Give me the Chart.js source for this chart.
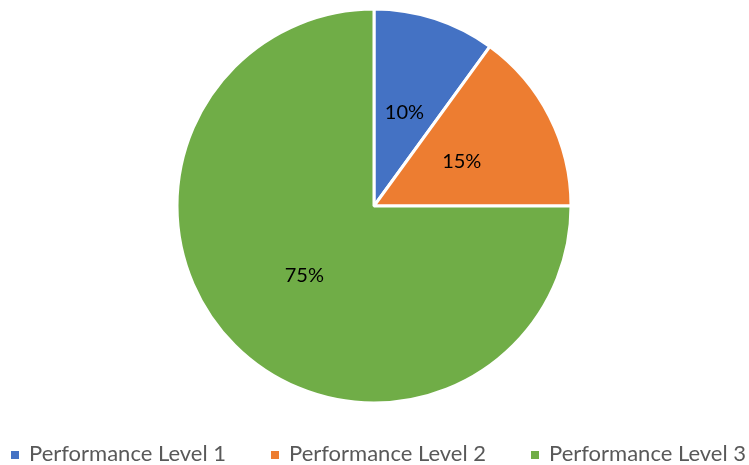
<!DOCTYPE html>
<html>
<head>
<meta charset="utf-8">
<script src="https://cdn.jsdelivr.net/npm/chart.js@4/dist/chart.umd.min.js"></script>
<style>
  html, body { margin: 0; padding: 0; background: #fff; }
  #wrap { position: relative; width: 749px; height: 465px; overflow: hidden; }
  #legend .item { position: absolute; top: 442px; font: 22px Lato; line-height: 22px; color: #595959; white-space: nowrap; }
  #legend .box { position: absolute; top: 9px; left: 0; width: 8px; height: 8px; }
  #legend .txt { position: absolute; left: 18px; top: 0; }
</style>
</head>
<body>
<div id="wrap">
  <canvas id="pieChart" width="749" height="465"></canvas>
  <div id="legend"></div>
</div>
<script>
const categories = ['Performance Level 1', 'Performance Level 2', 'Performance Level 3'];
const shares = [10, 15, 75];
const sliceColors = ['#4472C4', '#ED7D31', '#70AD47'];

// draws "10%" etc. in the middle of each slice
const sliceLabels = {
  id: 'sliceLabels',
  afterDatasetsDraw(chart) {
    const c = chart.ctx;
    const meta = chart.getDatasetMeta(0);
    c.save();
    c.font = '20px Lato';
    c.fillStyle = '#000';
    c.textAlign = 'center';
    c.textBaseline = 'middle';
    meta.data.forEach((arc, i) => {
      const p = arc.tooltipPosition();
      c.fillText(shares[i] + '%', p.x, p.y);
    });
    c.restore();
  }
};

function buildLegend() {
  const box = document.getElementById('legend');
  categories.forEach((name, i) => {
    const item = document.createElement('div');
    item.className = 'item';
    item.style.left = (11 + i * 260) + 'px';
    item.innerHTML = `<span class="box" style="background:${sliceColors[i]}"></span><span class="txt">${name}</span>`;
    box.appendChild(item);
  });
}

document.addEventListener('DOMContentLoaded', function() {
  const ctx = document.getElementById('pieChart');
  new Chart(ctx.getContext('2d'), {
    type: 'pie',
    data: {
      labels: categories,
      datasets: [{
        data: shares,
        backgroundColor: sliceColors,
        borderColor: '#fff',
        borderWidth: 3
      }]
    },
    options: {
      responsive: false,
      animation: false,
      radius: 197,
      layout: { padding: { top: 0, bottom: 53, right: 1 } },
      plugins: {
        tooltip: { enabled: false },
        legend: { display: false }
      }
    },
    plugins: [sliceLabels]
  });
  buildLegend();
});
</script>
</body>
</html>
